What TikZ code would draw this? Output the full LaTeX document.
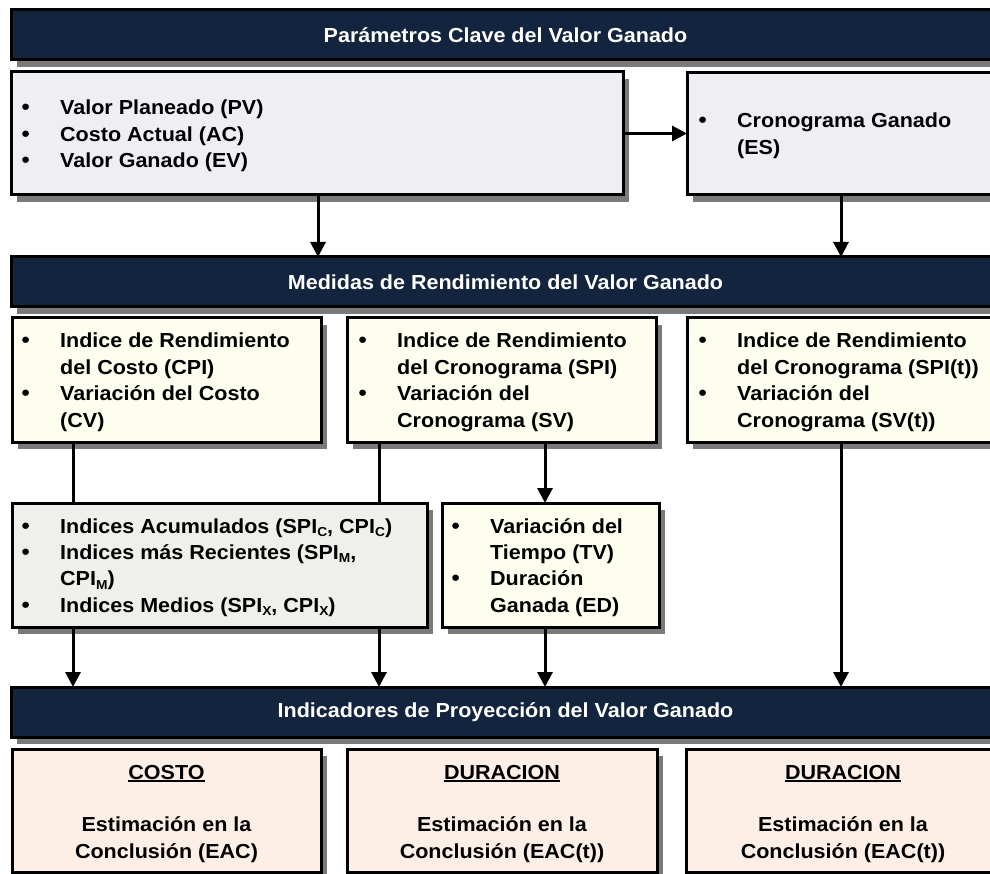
\documentclass[tikz,border=0pt]{standalone}
\usepackage{fontspec}
\setmainfont{Liberation Sans}[FakeStretch=1.06]
\usetikzlibrary{shadows,arrows.meta}

\definecolor{navy}{HTML}{13243F}
\definecolor{lavender}{HTML}{EFEEF3}
\definecolor{ivory}{HTML}{FEFEEE}
\definecolor{sage}{HTML}{EFF0EC}
\definecolor{peach}{HTML}{FDEFE6}
\definecolor{shade}{HTML}{7A7A7A}

% text helpers
\newcommand{\mainsize}{\fontsize{20.3}{26.4}\selectfont\bfseries}
\newcommand{\bulpt}{\leavevmode\kern-2.5pt\raisebox{0pt}{\fontsize{22}{22}\selectfont •}}
\newcommand{\subx}[1]{\raisebox{-3.5pt}{\fontsize{13}{13}\selectfont #1}}
\newcommand{\ulin}[1]{\setbox0\hbox{#1}\rlap{\rule[-2.8pt]{\wd0}{1.6pt}}\box0}
\newcommand{\blist}[1]{\begin{tabular}[t]{@{}p{36pt}@{}l@{}}#1\end{tabular}}
\newcommand{\clist}[1]{\begin{tabular}[t]{@{}c@{}}#1\end{tabular}}

\begin{document}
\begin{tikzpicture}[x=1pt,y=-1pt,
  frame/.style={draw=black, line width=3pt, inner sep=0pt, outer sep=0pt,
    anchor=north west,
    drop shadow={shadow xshift=6pt, shadow yshift=-7pt, fill=shade, opacity=1}},
  hdr/.style={frame, fill=navy, text=white, font=\mainsize,
    minimum width=989pt, minimum height=50pt},
  lavbox/.style={frame, fill=lavender},
  ivbox/.style={frame, fill=ivory},
  sgbox/.style={frame, fill=sage},
  pcbox/.style={frame, fill=peach},
  txt/.style={inner sep=0pt, anchor=base west, font=\mainsize},
  ctxt/.style={inner sep=0pt, anchor=base, font=\mainsize},
  ln/.style={line width=3pt},
  arr/.style={line width=3pt, -{Triangle[length=15pt,width=15pt]}}]

\useasboundingbox (0,0) rectangle (990,874);
\fill[white] (0,0) rectangle (990,874);

% column positions of the vertical connectors
\coordinate (xa) at (73,0);
\coordinate (xb) at (318,0);
\coordinate (xc) at (379,0);
\coordinate (xd) at (545,0);
\coordinate (xe) at (841,0);

% ---- key parameters
\node[hdr] (h1) at (11,10) {Parámetros Clave del Valor Ganado};
\node[lavbox, minimum width=612pt, minimum height=123pt] (pv) at (11,72) {};
\node[lavbox, minimum width=313pt, minimum height=122pt] (es) at (687,73) {};
\node[txt] (tpv) at (24,115) {\blist{\bulpt & Valor Planeado (PV)\\
  \bulpt & Costo Actual (AC)\\ \bulpt & Valor Ganado (EV)}};
\node[txt] (tes) at (701,128) {\blist{\bulpt & Cronograma Ganado\\ & (ES)}};

% ---- performance measures
\node[hdr] (h2) at (11,257) {Medidas de Rendimiento del Valor Ganado};
\node[ivbox, minimum width=309pt, minimum height=124pt] (cpi) at (12,318) {};
\node[ivbox, minimum width=309pt, minimum height=124pt] (spi) at (347,318) {};
\node[ivbox, minimum width=313pt, minimum height=124pt] (spit) at (687,318) {};
\node[txt] (tcpi) at (24,348) {\blist{\bulpt & Indice de Rendimiento\\
  & del Costo (CPI)\\ \bulpt & Variación del Costo\\ & (CV)}};
\node[txt] (tspi) at (361,348) {\blist{\bulpt & Indice de Rendimiento\\
  & del Cronograma (SPI)\\ \bulpt & Variación del\\ & Cronograma (SV)}};
\node[txt] (tspit) at (701,348) {\blist{\bulpt & Indice de Rendimiento\\
  & del Cronograma (SPI(t))\\ \bulpt & Variación del\\ & Cronograma (SV(t))}};

\node[sgbox, minimum width=415pt, minimum height=124pt] (idx) at (12,503) {};
\node[ivbox, minimum width=217pt, minimum height=124pt] (tv) at (442,503) {};
\node[txt] (tidx) at (24,533) {\blist{\bulpt & Indices Acumulados (SPI\subx{C}, CPI\subx{C})\\
  \bulpt & Indices más Recientes (SPI\subx{M},\\ & CPI\subx{M})\\
  \bulpt & Indices Medios (SPI\subx{X}, CPI\subx{X})}};
\node[txt] (ttv) at (454,533) {\blist{\bulpt & Variación del\\ & Tiempo (TV)\\
  \bulpt & Duración\\ & Ganada (ED)}};

% ---- forecasting indicators
\node[hdr] (h3) at (11,687) {Indicadores de Proyección del Valor Ganado};
\node[pcbox, minimum width=309pt, minimum height=123pt] (b1) at (12,749) {};
\node[pcbox, minimum width=310pt, minimum height=123pt] (b2) at (347,749) {};
\node[pcbox, minimum width=314pt, minimum height=123pt] (b3) at (686,749) {};
\node[ctxt] (tb1) at (166.5,779) {\clist{\ulin{COSTO}\\ \\ Estimación en la\\ Conclusión (EAC)}};
\node[ctxt] (tb2) at (502,779) {\clist{\ulin{DURACION}\\ \\ Estimación en la\\ Conclusión (EAC(t))}};
\node[ctxt] (tb3) at (843,779) {\clist{\ulin{DURACION}\\ \\ Estimación en la\\ Conclusión (EAC(t))}};

% ---- connectors
\draw[arr] (pv.east) -- (pv.east -| es.west);
\draw[arr] (pv.south -| xb) -- (h2.north -| xb);
\draw[arr] (es.south -| xe) -- (h2.north -| xe);
\draw[ln] (cpi.south -| xa) -- (idx.north -| xa);
\draw[ln] (spi.south -| xc) -- (idx.north -| xc);
\draw[arr] (spi.south -| xd) -- (tv.north -| xd);
\draw[arr] (idx.south -| xa) -- (h3.north -| xa);
\draw[arr] (idx.south -| xc) -- (h3.north -| xc);
\draw[arr] (tv.south -| xd) -- (h3.north -| xd);
\draw[arr] (spit.south -| xe) -- (h3.north -| xe);
\end{tikzpicture}
\end{document}
